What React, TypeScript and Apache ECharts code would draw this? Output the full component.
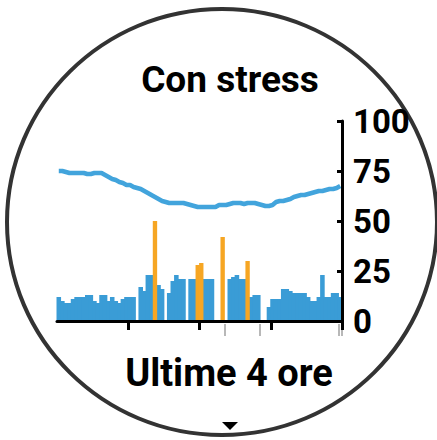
import React, { useEffect, useRef } from "react";
import * as echarts from "echarts";

// 80 bins of 3 minutes = last 4 hours
const binLabels: string[] = Array.from({ length: 80 }, (_, i) => `${i * 3}`);

// stress level per 3-minute bin (null = no data / activity)
const stressValues: (number | null)[] = [
  12, 10, 9, 9, 11, 12, 12, 12, 13, 13,
  10, 9, 13, 13, 10, 12, 10, 9, 11, 12,
  12, 12, null, 17, 15, 23, 23, null, 18, 16,
  null, 14, 20, 23, 21, 21, null, 21, 21, null,
  null, 21, 21, 21, null, null, null, null, 21, 22,
  23, 21, 21, null, 12, 13, 13, null, null, 7,
  11, 11, 11, 16, 16, 15, 14, 14, 14, 14,
  12, 10, 10, 12, 23, 12, 12, 14, 14, 12,
];

// activity (orange) bins
const activityValues: (number | null)[] = [
  null, null, null, null, null, null, null, null, null, null,
  null, null, null, null, null, null, null, null, null, null,
  null, null, null, null, null, null, null, 50, null, null,
  null, null, null, null, null, null, null, null, null, 28,
  29, null, null, null, null, null, 42, null, null, null,
  null, null, null, 30, null, null, null, null, null, null,
  null, null, null, null, null, null, null, null, null, null,
  null, null, null, null, null, null, null, null, null, null,
];

// body battery style line
const lineValues: number[] = [
  75, 75, 74.5, 74, 74, 74, 74, 74, 73.5, 73.5,
  74, 74, 74, 73, 72, 71, 70.5, 69.5, 69, 68,
  68, 67, 66.5, 66, 65, 64, 63, 62, 61, 60,
  59.5, 59, 59, 59, 59, 59, 58.5, 58, 57.5, 57,
  57, 57, 57, 57, 57, 58, 58, 58, 58.5, 59,
  59, 59, 58.5, 59, 59, 59, 58.5, 58, 57.5, 57.5,
  58, 59.5, 60, 60, 60.5, 61, 62, 62.5, 63, 63,
  63.5, 64, 64.5, 65, 65, 65.5, 66, 66, 66.5, 67.5,
];

const hourTickIdx = [20, 40, 60];
const grayTickIdx = [47, 57, 79];

const BLUE = "#3a9cd6";
const LINE_BLUE = "#42a4dc";
const ORANGE = "#f6a623";
const FONT = "Roboto, 'DejaVu Sans', sans-serif";

const toPairs = (arr: (number | null)[]) =>
  arr.map((v, i) => (v == null ? null : [i, v])).filter((d) => d !== null) as number[][];

const barRenderer = (color: string, pad: number) => (params: any, api: any) => {
  const x = api.value(0);
  const v = api.value(1);
  const base = api.coord([x, 0]);
  const top = api.coord([x, v]);
  const w = api.size([1, 0])[0];
  return {
    type: "rect",
    shape: { x: base[0] - w / 2 - pad, y: top[1], width: w + pad * 2, height: base[1] - top[1] },
    style: { fill: color },
  };
};

export default function App() {
  const ref = useRef<HTMLDivElement>(null);
  useEffect(() => {
    if (!ref.current) return;
    const chart = echarts.init(ref.current, undefined, { renderer: "svg" });
    chart.setOption({
      animation: false,
      backgroundColor: "#ffffff",
      grid: { left: 57, top: 121, width: 285, height: 200 },
      xAxis: [
        {
          type: "category",
          data: binLabels,
          boundaryGap: true,
          axisLine: { show: true, lineStyle: { color: "#000", width: 3 } },
          axisTick: {
            show: true,
            interval: (i: number) => hourTickIdx.indexOf(i) >= 0,
            length: 9,
            lineStyle: { color: "#000", width: 3 },
          },
          axisLabel: { show: false },
          splitLine: { show: false },
          z: 10,
        },
        {
          type: "category",
          data: binLabels,
          position: "bottom",
          offset: 3,
          boundaryGap: true,
          axisLine: { show: false },
          axisTick: {
            show: true,
            interval: (i: number) => grayTickIdx.indexOf(i) >= 0,
            length: 12,
            lineStyle: { color: "#b8b8b8", width: 2 },
          },
          axisLabel: { show: false },
          splitLine: { show: false },
        },
      ],
      yAxis: {
        type: "value",
        position: "right",
        min: 0,
        max: 100,
        interval: 25,
        axisLine: { show: true, lineStyle: { color: "#000", width: 3 } },
        axisTick: { show: true, inside: true, length: 5, lineStyle: { color: "#000", width: 3 } },
        splitLine: { show: false },
        axisLabel: {
          show: true,
          margin: 11,
          color: "#000",
          fontSize: 33,
          fontWeight: "bold",
          fontFamily: FONT,
        },
        z: 10,
      },
      series: [
        {
          type: "custom",
          data: toPairs(stressValues),
          encode: { x: 0, y: 1 },
          renderItem: barRenderer(BLUE, 0.5),
          silent: true,
        },
        {
          type: "custom",
          data: toPairs(activityValues),
          encode: { x: 0, y: 1 },
          renderItem: barRenderer(ORANGE, 0.4),
          silent: true,
        },
        {
          type: "line",
          data: lineValues,
          symbol: "none",
          lineStyle: { color: LINE_BLUE, width: 4.5 },
          silent: true,
          z: 5,
        },
      ],
      graphic: [
        {
          type: "ellipse",
          shape: { cx: 222, cy: 222, rx: 215, ry: 213 },
          style: { fill: "none", stroke: "#333333", lineWidth: 4 },
          silent: true,
        },
        {
          type: "text",
          x: 230,
          y: 79,
          style: {
            text: "Con stress",
            fill: "#000",
            font: `bold 37px ${FONT}`,
            textAlign: "center",
            textVerticalAlign: "middle",
          },
        },
        {
          type: "text",
          x: 229,
          y: 373,
          style: {
            text: "Ultime 4 ore",
            fill: "#000",
            font: `bold 38px ${FONT}`,
            textAlign: "center",
            textVerticalAlign: "middle",
          },
        },
        {
          type: "polygon",
          shape: { points: [[222, 422], [238, 422], [230, 430]] },
          style: { fill: "#000" },
          silent: true,
        },
      ],
    });
    return () => chart.dispose();
  }, []);
  return (
    <div
      ref={ref}
      style={{ position: "fixed", left: 0, top: 0, width: 437, height: 440, background: "#fff" }}
    />
  );
}
